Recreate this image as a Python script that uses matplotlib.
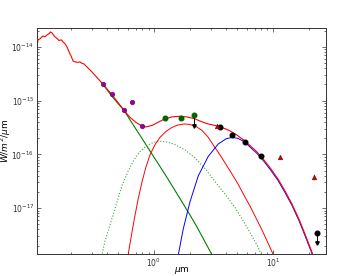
import numpy as np
import matplotlib
matplotlib.use("Agg")
import matplotlib.pyplot as plt

# total model (stellar spectrum + dust), um and W/m^2/um
total_wl = [0.1045, 0.106, 0.110, 0.1167, 0.1213, 0.1262, 0.131, 0.135, 0.139, 0.143,
            0.147, 0.153, 0.159, 0.167, 0.172, 0.179, 0.186, 0.195, 0.201, 0.209,
            0.217, 0.230, 0.239, 0.248, 0.258, 0.268, 0.279, 0.301, 0.326, 0.352,
            0.373, 0.444, 0.498, 0.560, 0.629, 0.706, 0.778, 0.857, 0.962, 1.08,
            1.237, 1.417, 1.654, 1.893, 2.168, 2.483, 2.843, 3.256, 3.727, 4.27,
            4.89, 5.60, 6.41, 7.34, 8.40, 9.62, 11.02, 12.62, 14.45, 16.53,
            18.57, 20.47, 22.5]
total_fl = [1.09e-14, 1.35e-14, 1.41e-14, 1.60e-14, 1.54e-14, 1.67e-14, 1.75e-14, 1.90e-14, 1.82e-14, 1.67e-14,
            1.54e-14, 1.44e-14, 1.32e-14, 1.35e-14, 1.24e-14, 1.14e-14, 1.0e-14, 7.73e-15, 6.79e-15, 5.48e-15,
            5.26e-15, 5.15e-15, 5.26e-15, 4.93e-15, 4.82e-15, 4.42e-15, 4.06e-15, 3.42e-15, 2.82e-15, 2.33e-15,
            2.02e-15, 1.28e-15, 9.25e-16, 6.63e-16, 4.87e-16, 3.93e-16, 3.45e-16, 3.24e-16, 3.45e-16, 3.93e-16,
            4.60e-16, 4.97e-16, 5.12e-16, 4.97e-16, 4.64e-16, 4.10e-16, 3.68e-16, 3.45e-16, 3.17e-16, 2.79e-16,
            2.35e-16, 1.89e-16, 1.46e-16, 1.11e-16, 7.87e-17, 5.35e-17, 3.48e-17, 2.08e-17, 1.19e-17, 6.26e-18,
            3.30e-18, 1.89e-18, 1.08e-18]

# stellar photosphere
star_wl = [0.373, 0.444, 0.498, 0.560, 0.666, 0.793, 0.944, 1.123, 1.311, 1.501,
           1.753, 2.007, 2.298, 2.632, 3.013, 3.256]
star_fl = [2.00e-15, 1.20e-15, 8.87e-16, 6.57e-16, 3.60e-16, 1.98e-16, 1.08e-16, 5.95e-17, 3.48e-17, 2.13e-17,
           1.22e-17, 7.44e-18, 4.45e-18, 2.55e-18, 1.46e-18, 1.04e-18]

# hot dust (dotted green)
hot_wl = [0.355, 0.388, 0.427, 0.486, 0.538, 0.608, 0.679, 0.763, 0.873, 1.0,
          1.145, 1.311, 1.501, 1.822, 2.211, 2.683, 3.256, 3.95, 4.79, 5.70,
          6.66, 7.48, 7.93, 8.24]
hot_fl = [9.9e-19, 2.44e-18, 4.84e-18, 1.24e-17, 2.58e-17, 4.91e-17, 7.87e-17, 1.13e-16, 1.46e-16, 1.68e-16,
          1.75e-16, 1.68e-16, 1.52e-16, 1.21e-16, 8.57e-17, 5.46e-17, 3.13e-17, 1.83e-17, 1.03e-17, 5.51e-18,
          3.02e-18, 1.89e-18, 1.40e-18, 9.9e-19]

# warm dust (red)
warm_wl = [0.599, 0.608, 0.641, 0.679, 0.734, 0.793, 0.857, 0.926, 1.019, 1.123,
           1.261, 1.417, 1.591, 1.787, 2.007, 2.254, 2.53, 2.843, 3.19, 3.59,
           4.03, 4.52, 5.08, 5.70, 6.41, 7.20, 8.09, 9.08, 10.0, 10.6]
warm_fl = [9.9e-19, 1.40e-18, 2.77e-18, 5.75e-18, 1.42e-17, 3.06e-17, 5.82e-17, 9.75e-17, 1.50e-16, 2.07e-16,
           2.67e-16, 3.17e-16, 3.52e-16, 3.68e-16, 3.60e-16, 3.31e-16, 2.79e-16, 2.11e-16, 1.43e-16, 9.75e-17,
           6.49e-17, 4.32e-17, 2.81e-17, 1.75e-17, 1.09e-17, 6.54e-18, 3.91e-18, 2.24e-18, 1.40e-18, 9.9e-19]

# cool dust (blue)
cool_wl = [1.576, 1.607, 1.763, 2.007, 2.356, 2.858, 3.47, 4.03, 4.52, 5.08,
           5.70, 6.41, 7.34, 8.40, 9.62, 11.02, 12.62, 14.45, 16.53, 18.57,
           20.47, 22.5]
cool_fl = [9.9e-19, 1.40e-18, 4.08e-18, 1.30e-17, 3.96e-17, 9.14e-17, 1.56e-16, 1.94e-16, 2.07e-16, 1.98e-16,
           1.74e-16, 1.37e-16, 1.04e-16, 7.38e-17, 5.01e-17, 3.27e-17, 1.95e-17, 1.12e-17, 5.87e-18, 3.09e-18,
           1.77e-18, 1.04e-18]

# photometry
opt_wl = [0.371, 0.441, 0.556, 0.65, 0.797]
opt_fl = [2.05e-15, 1.31e-15, 6.6e-16, 9.5e-16, 3.4e-16]
nir_wl = [1.24, 1.68, 2.17]
nir_fl = [4.76e-16, 4.8e-16, 5.35e-16]
nir_err = [0.4e-16, 0.3e-16, 0.3e-16]
nir_low = 3.4e-16
mir_wl = [3.59, 4.5, 5.82, 7.88]
mir_fl = [3.28e-16, 2.27e-16, 1.72e-16, 9.46e-17]
tri_wl = [3.37, 11.5, 22.0]
tri_fl = [3.4e-16, 8.8e-17, 3.85e-17]
tri_err = [0.2e-16, 0.6e-17, 0.5e-17]
lim_wl = 23.6
lim_fl = 3.48e-18
lim_end = 2.24e-18

fig = plt.figure(figsize=(3.49, 2.76), dpi=100)
ax = fig.add_axes([0.106, 0.080, 0.828, 0.819])

ax.plot(star_wl, star_fl, color="green", lw=0.8)
ax.plot(hot_wl, hot_fl, color="#33aa33", lw=0.8, ls=":")
ax.plot(warm_wl, warm_fl, color="red", lw=0.7)
ax.plot(cool_wl, cool_fl, color="blue", lw=0.7)
ax.plot(total_wl, total_fl, color="red", lw=0.8)

ax.errorbar(nir_wl, nir_fl, yerr=nir_err, fmt="o", ms=3.3, color="#006400",
            ecolor="#55aa55", elinewidth=0.6, capsize=0)
ax.plot([nir_wl[2], nir_wl[2]], [nir_fl[2], nir_low], color="black", lw=0.7)
ax.plot(nir_wl[2], nir_low, marker="v", ms=2.5, color="black", ls="none")
ax.plot(opt_wl, opt_fl, "o", ms=3.3, color="#990099", mec="#660066", mew=0.4)
ax.errorbar(tri_wl, tri_fl, yerr=tri_err, fmt="^", ms=3.3, color="#cc0000",
            mec="#880000", mew=0.4, ecolor="#55aa55", elinewidth=0.6, capsize=0)
ax.plot(mir_wl, mir_fl, "o", ms=3.3, color="black")
ax.plot(lim_wl, lim_fl, "o", ms=3.3, color="black")
ax.plot([lim_wl, lim_wl], [lim_fl, lim_end], color="black", lw=0.7)
ax.plot(lim_wl, lim_end, marker="v", ms=2.5, color="black", ls="none")

ax.set_xscale("log")
ax.set_yscale("log")
ax.set_xlim(0.104, 27.9)
ax.set_ylim(1.4e-18, 2.26e-14)
ax.set_xlabel(r"$\mu$m", fontsize=6.5)
ax.set_ylabel(r"$W/m^2/\mu$m", fontsize=6.5)
ax.xaxis.set_label_coords(0.5, -0.047)
ax.yaxis.set_label_coords(-0.083, 0.5)
ax.tick_params(which="both", direction="in", top=True, right=True, labelsize=5.5,
               colors="#333333", width=0.5, pad=2)
ax.tick_params(which="major", length=3)
ax.tick_params(which="minor", length=1.5)
for s in ax.spines.values():
    s.set_linewidth(0.7)
    s.set_color("#333333")

fig.savefig("out.png", dpi=100)
